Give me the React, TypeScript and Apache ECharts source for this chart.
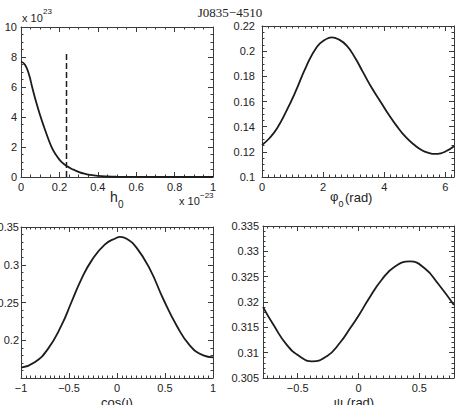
import React, { useEffect, useRef } from "react";
import * as echarts from "echarts";

// Posterior distributions for J0835−4510
const title = "J0835−4510";

// h0 (units of 1e-23) and its posterior density (units of 1e23)
const h0X = [0, 0.02, 0.04, 0.06, 0.08, 0.1, 0.12, 0.14, 0.16, 0.18, 0.2, 0.22, 0.24, 0.26, 0.28, 0.3, 0.33, 0.36, 0.4, 0.45, 0.5, 0.6, 0.8, 1.0];
const h0Y = [7.7, 7.5, 6.9, 5.9, 4.95, 4.1, 3.33, 2.62, 1.98, 1.52, 1.16, 0.9, 0.72, 0.57, 0.45, 0.34, 0.22, 0.14, 0.075, 0.033, 0.014, 0.003, 0, 0];
// 95% upper limit marker
const h0Limit = 0.237;
const h0LimitTop = 8.4;

// phi0 (rad)
const phiX = [0, 0.25, 0.5, 0.8, 1.1, 1.45, 1.8, 2.05, 2.28, 2.5, 2.78, 3.05, 3.3, 3.6, 3.9, 4.15, 4.4, 4.7, 5.0, 5.25, 5.45, 5.65, 5.85, 6.05, 6.283];
const phiY = [0.1255, 0.131, 0.139, 0.1525, 0.168, 0.188, 0.2035, 0.2088, 0.211, 0.2095, 0.2042, 0.1945, 0.1835, 0.1705, 0.159, 0.1495, 0.1408, 0.1318, 0.1252, 0.121, 0.1192, 0.1183, 0.1188, 0.1208, 0.1245];

// cos(iota)
const cosX = [-1, -0.857, -0.719, -0.58, -0.476, -0.372, -0.268, -0.128, -0.007, 0.031, 0.1, 0.205, 0.344, 0.483, 0.622, 0.76, 0.899, 1];
const cosY = [0.1636, 0.171, 0.1886, 0.2193, 0.25, 0.2807, 0.3048, 0.3267, 0.3355, 0.3368, 0.3345, 0.3224, 0.2938, 0.2543, 0.2193, 0.193, 0.1799, 0.1774];

// psi (rad)
const psiX = [-0.785, -0.697, -0.588, -0.479, -0.383, -0.26, -0.151, -0.069, 0.008, 0.081, 0.191, 0.3, 0.423, 0.546, 0.655, 0.785];
const psiY = [0.319, 0.3154, 0.3115, 0.3092, 0.3083, 0.3093, 0.312, 0.3148, 0.3176, 0.3205, 0.3244, 0.327, 0.328, 0.3266, 0.3236, 0.3194];

// Tick labels
const h0XTicks = [0, 0.2, 0.4, 0.6, 0.8, 1];
const h0YTicks = [0, 2, 4, 6, 8, 10];
const phiXTicks = [0, 2, 4, 6];
const phiYTicks = [0.1, 0.12, 0.14, 0.16, 0.18, 0.2, 0.22];
const cosXTicks = [-1, -0.5, 0, 0.5, 1];
const cosYTicks = [0.2, 0.25, 0.3, 0.35];
const psiXTicks = [-0.5, 0, 0.5];
const psiYTicks = [0.305, 0.31, 0.315, 0.32, 0.325, 0.33, 0.335];

const AXIS_COLOR = "#3a3a3a";
const TEXT_COLOR = "#222";
const LINE_COLOR = "#1c1c1c";
const SANS = "'Liberation Sans', Arial, Helvetica, sans-serif";
const SERIF = "'Liberation Serif', 'Times New Roman', serif";

function minorValues(min: number, max: number, step: number, majors: number[]) {
  const out: number[] = [];
  const start = Math.ceil(min / step - 1e-9);
  for (let k = start; k * step <= max + 1e-9; k++) {
    const v = Math.round(k * step * 1e9) / 1e9;
    if (!majors.some((m) => Math.abs(m - v) < 1e-9)) out.push(v);
  }
  return out;
}

const fmt = (v: number) => String(v).replace("-", "\u2212");

type Panel = {
  grid: { left: number; top: number; width: number; height: number };
  x: { min: number; max: number; ticks: number[]; minor: number; margin: number };
  y: { min: number; max: number; ticks: number[]; minor: number; margin: number };
};

const panels: Panel[] = [
  {
    grid: { left: 21, top: 27, width: 192, height: 150 },
    x: { min: 0, max: 1, ticks: h0XTicks, minor: 0.05, margin: 4 },
    y: { min: 0, max: 10, ticks: h0YTicks, minor: 0.5, margin: 4 },
  },
  {
    grid: { left: 262, top: 26, width: 192, height: 151 },
    x: { min: 0, max: 2 * Math.PI, ticks: phiXTicks, minor: 0.2, margin: 4 },
    y: { min: 0.1, max: 0.22, ticks: phiYTicks, minor: 0.005, margin: 7 },
  },
  {
    grid: { left: 21, top: 227, width: 192, height: 151 },
    x: { min: -1, max: 1, ticks: cosXTicks, minor: 0.05, margin: 4 },
    y: { min: 0.15, max: 0.35, ticks: cosYTicks, minor: 0.01, margin: 2 },
  },
  {
    grid: { left: 263, top: 226, width: 191, height: 152 },
    x: { min: -Math.PI / 4, max: Math.PI / 4, ticks: psiXTicks, minor: 0.05, margin: 4 },
    y: { min: 0.305, max: 0.335, ticks: psiYTicks, minor: 0.001, margin: 4 },
  },
];

function axesFor(gridIndex: number, spec: Panel["x"], sides: [string, string]) {
  const minors = minorValues(spec.min, spec.max, spec.minor, spec.ticks);
  const base = {
    type: "value",
    gridIndex,
    min: spec.min,
    max: spec.max,
    splitLine: { show: false },
  };
  const line = { show: true, onZero: false, lineStyle: { color: AXIS_COLOR, width: 1 } };
  const noLine = { show: false, onZero: false };
  const major = {
    show: true,
    inside: true,
    length: 5,
    customValues: spec.ticks,
    lineStyle: { color: AXIS_COLOR, width: 1 },
  };
  const minor = {
    show: true,
    inside: true,
    length: 2.5,
    customValues: minors,
    lineStyle: { color: AXIS_COLOR, width: 1 },
  };
  return [
    {
      ...base,
      position: sides[0],
      axisLine: line,
      axisTick: major,
      axisLabel: {
        show: true,
        customValues: spec.ticks,
        margin: spec.margin,
        formatter: fmt,
        color: TEXT_COLOR,
        fontSize: 11,
        fontFamily: SANS,
      },
    },
    { ...base, position: sides[0], axisLine: noLine, axisTick: minor, axisLabel: { show: false } },
    { ...base, position: sides[1], axisLine: line, axisTick: major, axisLabel: { show: false } },
    { ...base, position: sides[1], axisLine: noLine, axisTick: minor, axisLabel: { show: false } },
  ];
}

function pairs(xs: number[], ys: number[]) {
  return xs.map((x, i) => [x, ys[i]]);
}

function label(text: string, x: number, y: number, size: number, family = SANS, align = "left") {
  return {
    type: "text",
    x,
    y,
    style: {
      text,
      fill: TEXT_COLOR,
      font: `${size}px ${family}`,
      align,
      verticalAlign: "middle",
    },
  };
}

export default function App() {
  const ref = useRef<HTMLDivElement>(null);

  useEffect(() => {
    if (!ref.current) return;
    const chart = echarts.init(ref.current, undefined, { renderer: "svg" });

    const xAxis: any[] = [];
    const yAxis: any[] = [];
    panels.forEach((p, i) => {
      xAxis.push(...axesFor(i, p.x, ["bottom", "top"]));
      yAxis.push(...axesFor(i, p.y, ["left", "right"]));
    });

    const curve = (i: number, data: number[][]) => ({
      type: "line",
      xAxisIndex: i * 4,
      yAxisIndex: i * 4,
      data,
      showSymbol: false,
      smooth: 0.5,
      lineStyle: { color: LINE_COLOR, width: 1.8 },
      silent: true,
    });

    chart.setOption({
      animation: false,
      backgroundColor: "#ffffff",
      grid: panels.map((p) => ({ ...p.grid, containLabel: false, outerBoundsMode: "none" })),
      xAxis,
      yAxis,
      series: [
        curve(0, pairs(h0X, h0Y)),
        {
          type: "line",
          xAxisIndex: 0,
          yAxisIndex: 0,
          data: [
            [h0Limit, 0],
            [h0Limit, h0LimitTop],
          ],
          showSymbol: false,
          lineStyle: { color: LINE_COLOR, width: 1.5, type: [6, 3] },
          silent: true,
        },
        curve(1, pairs(phiX, phiY)),
        curve(2, pairs(cosX, cosY)),
        curve(3, pairs(psiX, psiY)),
      ],
      graphic: [
        label(title, 230, 12, 13, SERIF, "center"),
        // exponent above the h0 density axis
        label("x 10", 22, 18, 11),
        label("23", 43, 11, 8),
        // h0 axis name and exponent
        label("h", 110, 197, 14),
        label("0", 118, 204, 10),
        label("x 10", 179, 201, 11),
        label("\u221223", 200, 195, 8),
        // phi0
        label("φ", 330, 196, 13),
        label("0", 338.5, 204, 9),
        label("(rad)", 345, 197, 13),
        // cos(iota)
        label("cos(ι)", 117, 402, 13, SANS, "center"),
        // psi
        label("ψ (rad)", 354, 402, 13, SANS, "center"),
      ],
    });

    return () => chart.dispose();
  }, []);

  return (
    <div
      ref={ref}
      style={{ position: "absolute", left: 0, top: 0, width: 460, height: 405, background: "#fff" }}
    />
  );
}
